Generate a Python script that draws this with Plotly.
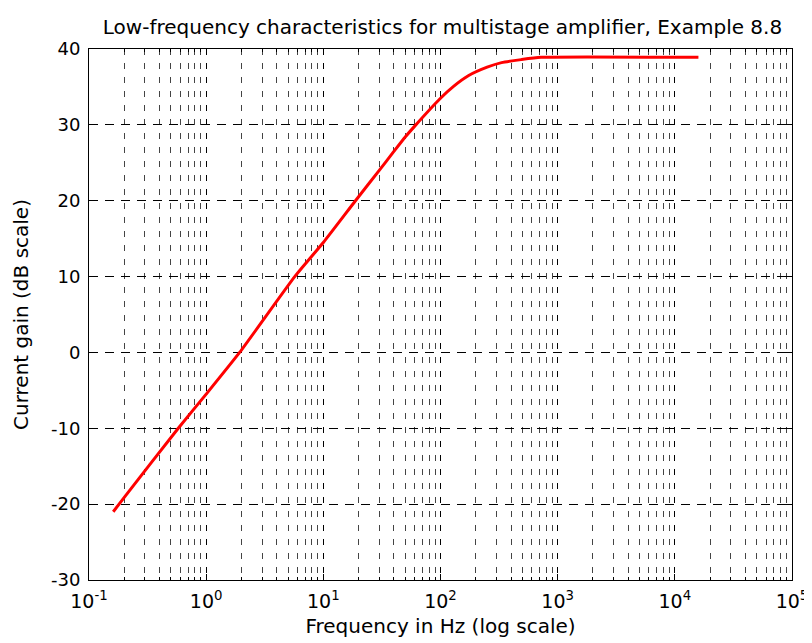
import plotly.graph_objects as go

# Data
freq_hz = [0.161, 0.2, 0.578, 1.0, 1.93, 5.7, 10, 18.8, 30, 40, 50, 60, 100, 130, 174, 250, 332, 489, 720, 15900]
gain_db = [-21.0, -19.1, -10.0, -5.5, 0.0, 10.0, 14.5, 20.0, 24.0, 26.5, 28.4, 29.8, 33.5, 35.1, 36.5, 37.6, 38.2, 38.6, 38.9, 38.9]

x_major_ticks = [0.1, 1, 10, 100, 1000, 10000, 100000]
x_major_labels = ["10<sup>-1</sup>", "10<sup>0</sup>", "10<sup>1</sup>", "10<sup>2</sup>",
                  "10<sup>3</sup>", "10<sup>4</sup>", "10<sup>5</sup>"]
x_minor_ticks = [m * d for d in [0.1, 1, 10, 100, 1000, 10000] for m in range(2, 10)]
y_ticks = [-30, -20, -10, 0, 10, 20, 30, 40]
y_tick_labels = ["-30", "-20", "-10", "0", "10", "20", "30", "40"]

title_text = "Low-frequency characteristics for multistage amplifier, Example 8.8"
x_title = "Frequency in Hz (log scale)"
y_title = "Current gain (dB scale)"

FONT = "DejaVu Sans, Liberation Sans, Arial, sans-serif"

fig = go.Figure()
fig.add_trace(go.Scatter(
    x=freq_hz, y=gain_db, mode="lines",
    line=dict(color="#ff0000", width=3, shape="spline", smoothing=0.5),
    showlegend=False, hoverinfo="x+y",
))

fig.update_layout(
    width=812, height=643,
    margin=dict(l=81, r=17, t=41, b=71),
    paper_bgcolor="white", plot_bgcolor="white",
    font=dict(family=FONT, size=18, color="black"),
    title=dict(text=title_text, x=434.5 / 812, xanchor="center", y=1 - 19 / 643, yanchor="middle",
               yref="container", xref="container",
               font=dict(family=FONT, size=20, color="black")),
)

fig.update_xaxes(
    type="log", range=[-1, 5],
    tickmode="array", tickvals=x_major_ticks, ticktext=x_major_labels,
    ticks="inside", ticklen=6, tickcolor="black", tickwidth=1,
    showline=True, linecolor="black", linewidth=1, mirror="ticks",
    showgrid=True, gridcolor="black", gridwidth=1, griddash="6px,8px",
    zeroline=False, ticklabelstandoff=4,
    tickfont=dict(family=FONT, size=19, color="black"),
    minor=dict(tickmode="array", tickvals=x_minor_ticks, ticks="inside", ticklen=3,
               tickcolor="black", showgrid=True, gridcolor="#444444", gridwidth=1,
               griddash="6px,8px"),
    title=dict(text=x_title, standoff=8, font=dict(family=FONT, size=20, color="black")),
)

fig.update_yaxes(
    range=[-30, 40], tickmode="array", tickvals=y_ticks, ticktext=y_tick_labels,
    ticks="inside", ticklen=6, tickcolor="black", tickwidth=1,
    showline=True, linecolor="black", linewidth=1, mirror="ticks",
    showgrid=True, gridcolor="black", gridwidth=1, griddash="9px,7px",
    zeroline=False, ticklabelstandoff=4,
    tickfont=dict(family=FONT, size=18, color="black"),
    title=dict(text=y_title, standoff=16, font=dict(family=FONT, size=20, color="black")),
)

fig.write_html("out.html")
